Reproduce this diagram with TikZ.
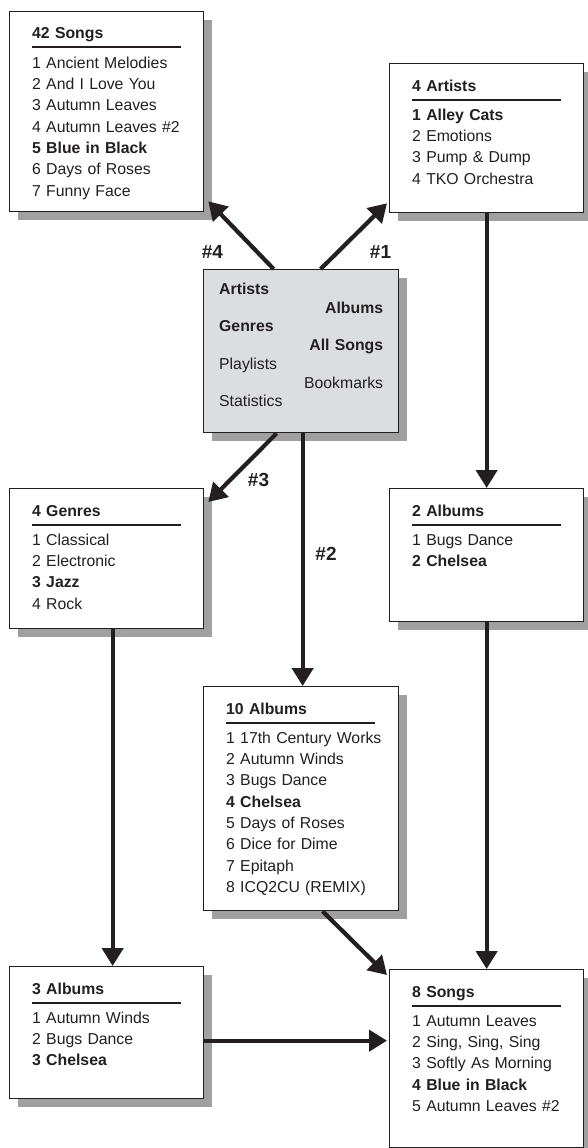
\documentclass[tikz,border=0pt]{standalone}
\usepackage{fontspec}
\setmainfont{Liberation Sans}
\usepackage{xcolor}
\definecolor{tinta}{RGB}{35, 31, 32}
\definecolor{sombra}{RGB}{160, 160, 160}
\definecolor{menugris}{RGB}{220, 221, 223}
\usepackage{tikz}
\usetikzlibrary{calc, positioning, arrows.meta, shadows}

\newcommand{\listfont}{\fontsize{15.8}{21.3}\selectfont}
\newcommand{\menufont}{\fontsize{15.8}{37.6}\selectfont}

\begin{document}
\begin{tikzpicture}[
  x=1pt, y=-1pt,
  box/.style={rectangle, anchor=north west, draw=tinta, line width=1.3pt, fill=white, minimum width=194pt, drop shadow={shadow xshift=8pt, shadow yshift=-8pt, fill=sombra, opacity=1}},
  menubox/.style={box, fill=menugris, minimum width=195pt},
  items/.style={anchor=base west, inner sep=0pt, text width=170pt, align=left, text=tinta, font=\listfont},
  menuleft/.style={anchor=base west, inner sep=0pt, text width=110pt, align=left, text=tinta, font=\menufont},
  menuright/.style={menuleft, anchor=base east, align=right},
  bar/.style={line width=2pt, tinta},
  tag/.style={inner sep=0pt, text=tinta, font=\fontsize{19}{22}\selectfont\bfseries},
  arr/.style={-{Triangle[width=21pt,length=18pt]}, line width=4.2pt, tinta}
]
  \useasboundingbox (0,0) rectangle (588,1148);

  % menu
  \node[menubox, minimum height=163pt] (menu) at (203,269) {};
  \node[menuleft] (menu-left) at ([shift={(16,25)}]menu.north west) {\textbf{Artists}\\\textbf{Genres}\\Playlists\\Statistics};
  \node[menuright] (menu-right) at ([shift={(-16,44)}]menu.north east) {\textbf{Albums}\\\textbf{All Songs}\\Bookmarks};

  % lists
  \node[box, minimum height=200pt] (allsongs) at (9,11) {};
  \node[items] (allsongs-list) at ([shift={(23,28)}]allsongs.north west) {\textbf{42 Songs}\\[8pt]1 Ancient Melodies\\2 And I Love You\\3 Autumn Leaves\\4 Autumn Leaves \#2\\\textbf{5 Blue in Black}\\6 Days of Roses\\7 Funny Face};
  \draw[bar] ([shift={(23,36.5)}]allsongs.north west) -- ++(149,0);

  \node[box, minimum height=149pt] (artists) at (389,63) {};
  \node[items] (artists-list) at ([shift={(23,28)}]artists.north west) {\textbf{4 Artists}\\[8pt]\textbf{1 Alley Cats}\\2 Emotions\\3 Pump \& Dump\\4 TKO Orchestra};
  \draw[bar] ([shift={(23,36.5)}]artists.north west) -- ++(149,0);

  \node[box, minimum height=140pt] (genres) at (9,488) {};
  \node[items] (genres-list) at ([shift={(23,28)}]genres.north west) {\textbf{4 Genres}\\[8pt]1 Classical\\2 Electronic\\\textbf{3 Jazz}\\4 Rock};
  \draw[bar] ([shift={(23,36.5)}]genres.north west) -- ++(149,0);

  \node[box, minimum height=133pt] (albums2) at (389,488) {};
  \node[items] (albums2-list) at ([shift={(23,28)}]albums2.north west) {\textbf{2 Albums}\\[8pt]1 Bugs Dance\\\textbf{2 Chelsea}};
  \draw[bar] ([shift={(23,36.5)}]albums2.north west) -- ++(149,0);

  \node[box, minimum width=195pt, minimum height=224pt] (albums10) at (203,686) {};
  \node[items] (albums10-list) at ([shift={(23,28)}]albums10.north west) {\textbf{10 Albums}\\[8pt]1 17th Century Works\\2 Autumn Winds\\3 Bugs Dance\\\textbf{4 Chelsea}\\5 Days of Roses\\6 Dice for Dime\\7 Epitaph\\8 ICQ2CU (REMIX)};
  \draw[bar] ([shift={(23,36.5)}]albums10.north west) -- ++(149,0);

  \node[box, minimum height=132pt] (albums3) at (9,966) {};
  \node[items] (albums3-list) at ([shift={(23,28)}]albums3.north west) {\textbf{3 Albums}\\[8pt]1 Autumn Winds\\2 Bugs Dance\\\textbf{3 Chelsea}};
  \draw[bar] ([shift={(23,36.5)}]albums3.north west) -- ++(149,0);

  \node[box, minimum height=178pt] (songs8) at (389,969) {};
  \node[items] (songs8-list) at ([shift={(23,28)}]songs8.north west) {\textbf{8 Songs}\\[8pt]1 Autumn Leaves\\2 Sing, Sing, Sing\\3 Softly As Morning\\\textbf{4 Blue in Black}\\5 Autumn Leaves \#2};
  \draw[bar] ([shift={(23,36.5)}]songs8.north west) -- ++(149,0);

  % arrows
  \draw[arr] ([shift={(19.5,0)}]menu.north) -- ([shift={(-2,-10)}]artists.south west);
  \draw[arr] ([shift={(-27.5,0)}]menu.north) -- ([shift={(4,-11)}]allsongs.south east);
  \draw[arr] ([shift={(-24.5,0)}]menu.south) -- ([shift={(4,14)}]genres.north east);
  \draw[arr] ([shift={(1.5,0)}]menu.south) -- ([shift={(1.5,0)}]albums10.north);
  \draw[arr] (artists.south) -- (albums2.north);
  \draw[arr] (albums2.south) -- (songs8.north);
  \draw[arr] ([shift={(6,0)}]genres.south) -- ([shift={(6,0)}]albums3.north);
  \draw[arr] ([shift={(21.5,0)}]albums10.south) -- ([shift={(-2,6)}]songs8.north west);
  \draw[arr] ([shift={(0,8)}]albums3.east) -- ($(albums3.east -| songs8.west)+(-2,8)$);

  \node[tag] (tag1) at (380.5,251.5) {\#1};
  \node[tag] (tag2) at (326,553.5) {\#2};
  \node[tag] (tag3) at (258.5,480) {\#3};
  \node[tag] (tag4) at (212.5,251.5) {\#4};
\end{tikzpicture}
\end{document}
